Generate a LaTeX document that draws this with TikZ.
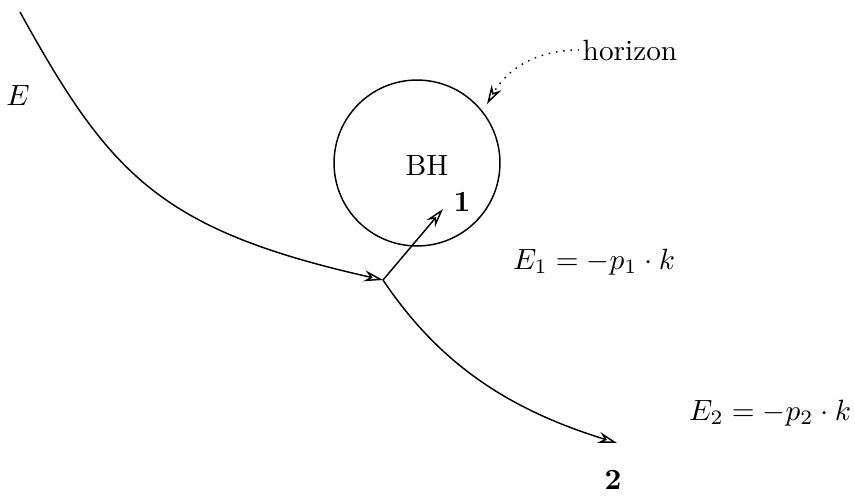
\documentclass[tikz,border=0pt]{standalone}
\usepackage{amsmath,amssymb}
\usepackage{tikz}
\usetikzlibrary{arrows.meta}

\begin{document}
\begin{tikzpicture}[
			x=0.012cm, y=-0.012cm, >={Stealth[open,length=6.5pt,width=3.8pt]},
			path/.style={->, line width=0.5pt},
			hole/.style={draw, circle, line width=0.5pt, minimum size=1.99cm, inner sep=0pt},
			hint/.style={->, dotted, line width=0.5pt},
			lab/.style={inner sep=1pt}
			]
			\useasboundingbox (0,0) rectangle (855,495);
			
			% points
			\coordinate (start) at (20,12);
			\coordinate (V)     at (383,280);
			\coordinate (tip1)  at (443,209);
			\coordinate (tip2)  at (617,443);
			\coordinate (hit)   at (487,104);
			
			% horizon
			\node[hole] (hor) at (417,163) {};
			\node[lab] (bh) at (427,165) {BH};
			\node[lab] (hz) at (630,50) {horizon};
			\draw[hint] (hz.west) to[out=180,in=60] (hit);
			
			% incoming particle
			\node[lab] (E) at (18,95) {$E$};
			\draw[path] (start) .. controls (110,175) and (160,230) .. (V);
			
			% particle 1 (falls in)
			\draw[path] (V) -- (tip1);
			\node[lab] (one) at (462,202) {$\mathbf{1}$};
			\node[lab] (E1) at (594,262) {$E_{1}=-p_{1}\cdot k$};
			
			% particle 2 (escapes)
			\draw[path] (V) .. controls (440,365) and (510,410) .. (tip2);
			\node[lab] (two) at (613,480) {$\mathbf{2}$};
			\node[lab] (E2) at (770,413) {$E_{2}=-p_{2}\cdot k$};
			
		\end{tikzpicture}
\end{document}
